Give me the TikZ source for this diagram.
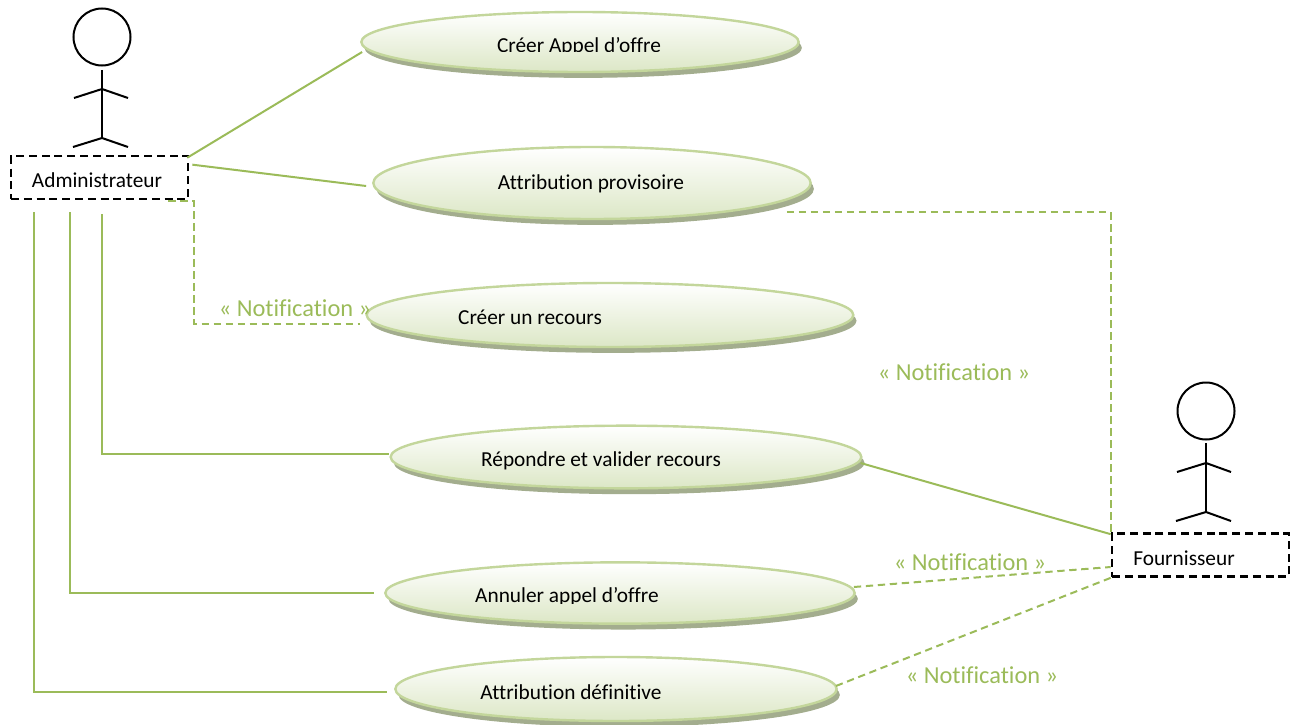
\documentclass[tikz,border=0pt]{standalone}
\usepackage{fontspec}
\setmainfont[Ligatures=CommonOff]{Carlito}
\usetikzlibrary{shapes.geometric,shadows,calc}
\definecolor{lineg}{HTML}{9BBB59}
\definecolor{edgeg}{HTML}{C3D69B}
\definecolor{shadeg}{HTML}{DCE7C6}
\definecolor{shadowg}{HTML}{A3AD8E}
\tikzset{
  usecase/.style={ellipse,inner sep=0pt,draw=edgeg,line width=1.8pt,top color=white,bottom color=shadeg,
    drop shadow={shadow xshift=2.4pt,shadow yshift=-4.4pt,fill=shadowg,opacity=1}},
  uctext/.style={inner sep=0pt,text=black,font=\fontsize{16}{19}\selectfont},
  actorbox/.style={draw=black,line width=2pt,dash pattern=on 6pt off 3.6pt,inner sep=0pt,minimum width=132.75pt,minimum height=32.25pt},
  actorline/.style={draw=black,line width=1.5pt},
  actorhead/.style={circle,draw=black,line width=1.5pt,inner sep=0pt,minimum size=42.75pt},
  assoc/.style={draw=lineg,line width=1.5pt},
  dep/.style={draw=lineg,line width=1.5pt,dash pattern=on 5.5pt off 3.5pt},
  stereo/.style={inner sep=0pt,text=lineg,font=\fontsize{18.3}{22}\selectfont},
  actorname/.style={inner sep=0pt,text=black,font=\fontsize{16}{19}\selectfont}
}
\begin{document}
\begin{tikzpicture}[x=0.75pt,y=-0.75pt]
\useasboundingbox (0,0) rectangle (1298,724);

% use cases
\node[usecase,minimum width=328pt,minimum height=45pt] (uc1) at (580,42) {};
\node[usecase,minimum width=328pt,minimum height=54pt] (uc2) at (592,183) {};
\node[usecase,minimum width=365pt,minimum height=48pt] (uc3) at (610,315) {};
\node[usecase,minimum width=353pt,minimum height=47pt] (uc4) at (626,457) {};
\node[usecase,minimum width=352pt,minimum height=46pt] (uc5) at (620,593) {};
\node[usecase,minimum width=331pt,minimum height=48pt] (uc6) at (616,689) {};

\begin{scope}
\clip (480,25) rectangle (680,52);
\node[uctext] (t1) at (579,46.8) {Créer Appel d’offre};
\end{scope}
\node[uctext] (t2) at (591,184) {Attribution provisoire};
\node[uctext] (t3) at (530,317) {Créer un recours};
\node[uctext] (t4) at (601,461) {Répondre et valider recours};
\begin{scope}
\clip (460,580) rectangle (680,603);
\node[uctext] (t5) at (567,597) {Annuler appel d’offre};
\end{scope}
\node[uctext] (t6) at (571,692) {Attribution définitive};

% actors
\node[actorhead] (headA) at (102,37) {};
\coordinate (neckA) at (102,70);
\coordinate (hipA) at (102,138);
\coordinate (shoA) at (102,89);
\draw[actorline] (neckA) -- (hipA);
\draw[actorline] (74,98) -- (shoA) -- (128,98);
\draw[actorline] (73,147) -- (hipA) -- (128,147);
\node[actorbox] (admin) at (99.5,177.5) {};
\node[actorname] (adminT) at (97,180) {Administrateur};

\node[actorhead] (headF) at (1206,411) {};
\coordinate (neckF) at (1206,443);
\coordinate (hipF) at (1206,512);
\coordinate (shoF) at (1206,463);
\draw[actorline] (neckF) -- (hipF);
\draw[actorline] (1177,472) -- (shoF) -- (1231,472);
\draw[actorline] (1176,521) -- (hipF) -- (1231,521);
\node[actorbox] (four) at (1200.5,555) {};
\node[actorname] (fourT) at (1184,558) {Fournisseur};

% associations
\draw[assoc] ([shift={(-2,3)}]admin.north east) -- ([shift={(2,10)}]uc1.west);
\draw[assoc] ([shift={(3,10)}]admin.north east) -- ([shift={(-6,3)}]uc2.west);
\draw[assoc] ([shift={(-65.5,12)}]admin.south) |- ([shift={(-7,3)}]uc6.west);
\draw[assoc] ([shift={(-29.5,12)}]admin.south) |- ([shift={(-10,0)}]uc5.west);
\draw[assoc] ([shift={(2.5,14)}]admin.south) |- ([shift={(0,-3)}]uc4.west);
\draw[assoc] ([shift={(-2,6)}]uc4.east) -- ([shift={(0,2)}]four.north west);

% dependencies
\draw[dep] ([shift={(-21,1)}]admin.south east) -- ([shift={(5,1)}]admin.south east) |- ([shift={(-5,9)}]uc3.west);
\draw[dep] ([shift={(-25,29)}]uc2.east) -| (four.north west);
\draw[dep] ([shift={(-2,-6)}]uc5.east) -- ([shift={(0,12)}]four.west);
\draw[dep] ([shift={(-2,-3)}]uc6.east) -- (four.south west);

% stereotypes
\node[stereo] (n1) at (295,308) {« Notification »};
\node[stereo] (n2) at (954,372) {« Notification »};
\node[stereo] (n3) at (970,562) {« Notification »};
\node[stereo] (n4) at (982,675) {« Notification »};
\end{tikzpicture}
\end{document}
